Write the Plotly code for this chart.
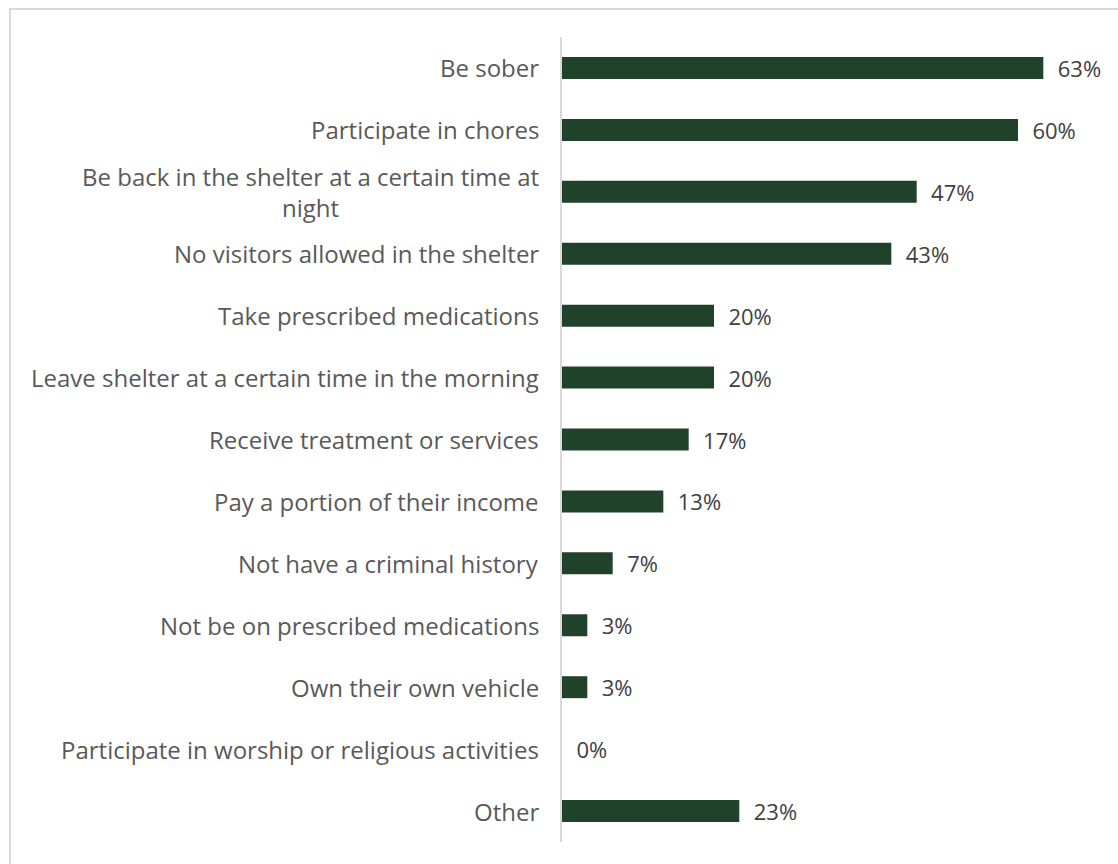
import plotly.graph_objects as go

# Shelter rules reported by respondents (share of shelters, n = 30)
rules = [
    "Be sober",
    "Participate in chores",
    "Be back in the shelter at a certain time at<br>night",
    "No visitors allowed in the shelter",
    "Take prescribed medications",
    "Leave shelter at a certain time in the morning",
    "Receive treatment or services",
    "Pay a portion of their income",
    "Not have a criminal history",
    "Not be on prescribed medications",
    "Own their own vehicle",
    "Participate in worship or religious activities",
    "Other",
]
shares = [63.33, 60.0, 46.67, 43.33, 20.0, 20.0, 16.67, 13.33, 6.67, 3.33, 3.33, 0.0, 23.33]

BAR_COLOR = "#21422a"
W, H = 1118, 864
M_L, M_R, M_T, M_B = 562, 18, 37, 22
plot_w = W - M_L - M_R
plot_h = H - M_T - M_B

fig = go.Figure(
    go.Bar(
        x=shares,
        y=rules,
        orientation="h",
        marker=dict(color=BAR_COLOR, line=dict(width=0)),
        width=0.355,
        text=[f"\u00a0\u00a0{round(v):.0f}%" for v in shares],
        textposition="outside",
        constraintext="none",
        cliponaxis=False,
        textfont=dict(family="Open Sans", size=22, color="#404040", weight=500),
        hoverinfo="skip",
    )
)

# Category labels, centred when they wrap onto two lines
for r in rules:
    fig.add_annotation(
        x=-21 / plot_w,
        xref="paper",
        y=r,
        yref="y",
        text=r,
        showarrow=False,
        xanchor="right",
        yanchor="middle",
        align="center",
        font=dict(family="Open Sans", size=24, color="#595959"),
    )

# Chart frame
fig.add_shape(
    type="rect",
    xref="paper",
    yref="paper",
    x0=(10 - M_L) / plot_w,
    x1=(W + 20 - M_L) / plot_w,
    y0=-(30) / plot_h,
    y1=1 + (M_T - 9) / plot_h,
    line=dict(color="#d9d9d9", width=2),
    fillcolor="rgba(0,0,0,0)",
    layer="below",
)

fig.update_layout(
    width=W,
    height=H,
    margin=dict(l=M_L, r=M_R, t=M_T, b=M_B),
    plot_bgcolor="white",
    paper_bgcolor="white",
    showlegend=False,
    xaxis=dict(
        range=[0, plot_w / 7.6],
        showgrid=False,
        zeroline=False,
        showticklabels=False,
        ticks="",
        fixedrange=True,
    ),
    yaxis=dict(
        categoryorder="array",
        categoryarray=rules,
        autorange="reversed",
        showticklabels=False,
        showgrid=False,
        zeroline=False,
        showline=True,
        linecolor="#d9d9d9",
        linewidth=2,
        ticks="",
    ),
)

fig.write_html("out.html")
